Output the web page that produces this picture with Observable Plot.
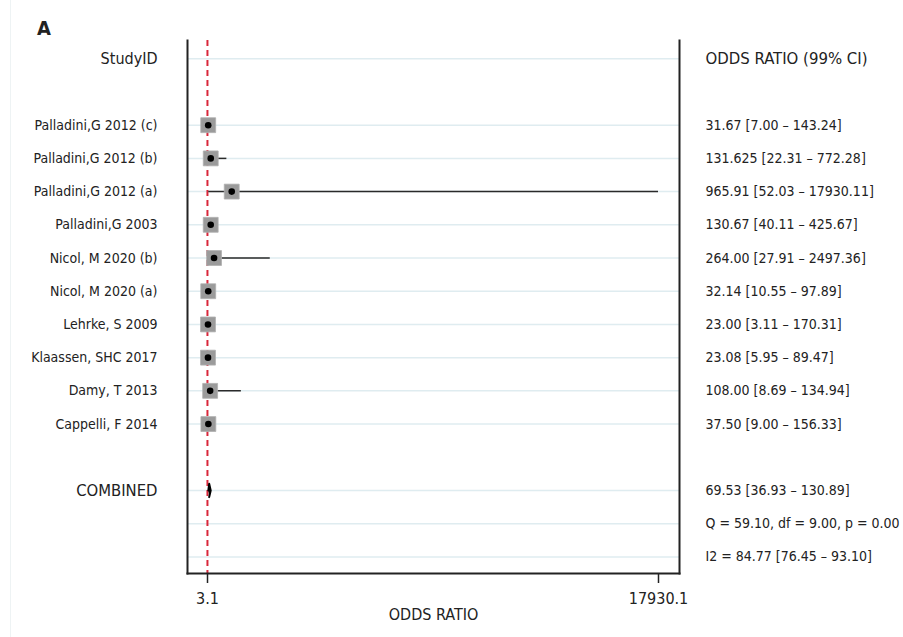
<!DOCTYPE html>
<html>
<head>
<meta charset="utf-8">
<script src="https://cdn.jsdelivr.net/npm/d3@7"></script>
<script src="https://cdn.jsdelivr.net/npm/@observablehq/plot@0.6"></script>
<style>
  html, body { margin: 0; padding: 0; background: #fff; }
  #wrap { position: relative; width: 903px; height: 637px; overflow: hidden;
          font-family: "Liberation Sans Narrow", "Arial Narrow", "DejaVu Sans Condensed", sans-serif; }
  #edge { position: absolute; left: 10px; top: 0; width: 1px; height: 637px; background: #eef3f4; }
  #title { position: absolute; left: 37px; top: 16px; font-size: 20px; font-weight: bold; color: #222; }
  #chart { position: absolute; left: 0; top: 0; }
</style>
</head>
<body>
<div id="wrap">
  <div id="edge"></div>
  <div id="chart"></div>
  <div id="title">A</div>
</div>
<script>
// ---- data ----
const studies = ["Palladini,G 2012 (c)", "Palladini,G 2012 (b)", "Palladini,G 2012 (a)", "Palladini,G 2003",
  "Nicol, M 2020 (b)", "Nicol, M 2020 (a)", "Lehrke, S 2009", "Klaassen, SHC 2017", "Damy, T 2013", "Cappelli, F 2014"];
const oddsRatio = [31.67, 131.625, 965.91, 130.67, 264.00, 32.14, 23.00, 23.08, 108.00, 37.50];
const ciLow = [7.00, 22.31, 52.03, 40.11, 27.91, 10.55, 3.11, 5.95, 8.69, 9.00];
const ciHigh = [143.24, 772.28, 17930.11, 425.67, 2497.36, 97.89, 170.31, 89.47, 1349.4, 156.33];
const ciLabels = ["31.67 [7.00 – 143.24]", "131.625 [22.31 – 772.28]", "965.91 [52.03 – 17930.11]",
  "130.67 [40.11 – 425.67]", "264.00 [27.91 – 2497.36]", "32.14 [10.55 – 97.89]", "23.00 [3.11 – 170.31]",
  "23.08 [5.95 – 89.47]", "108.00 [8.69 – 134.94]", "37.50 [9.00 – 156.33]"];
const combinedLabel = "COMBINED";
const combined = {or: 69.53, lo: 36.93, hi: 130.89, label: "69.53 [36.93 – 130.89]"};
const heterogeneity = ["Q = 59.10, df = 9.00, p = 0.00", "I2 = 84.77 [76.45 – 93.10]"];
const headerLeft = "StudyID";
const headerRight = "ODDS RATIO (99% CI)";
const xTicks = [3.1, 17930.1];
const xLabel = "ODDS RATIO";
const nullValue = 1;

// ---- rows ----
const studyRows = studies.map((s, i) => ({name: s, row: i + 2, or: oddsRatio[i], lo: ciLow[i], hi: ciHigh[i], label: ciLabels[i]}));
const combinedRow = studies.length + 3;
const hetRows = heterogeneity.map((t, i) => ({label: t, row: combinedRow + 1 + i}));
const gridRows = [0, ...studyRows.map(d => d.row), combinedRow, ...hetRows.map(d => d.row)];
const diamond = [
  {x: combined.lo, y: combinedRow}, {x: combined.or, y: combinedRow - 0.2},
  {x: combined.hi, y: combinedRow}, {x: combined.or, y: combinedRow + 0.2}
];
const ink = "#222";
const fnt = 14;

const chart = Plot.plot({
  width: 903,
  height: 637,
  marginLeft: 187,
  marginRight: 224,
  marginTop: 40,
  marginBottom: 64,
  style: {fontFamily: '"Liberation Sans Narrow", "Arial Narrow", "DejaVu Sans Condensed", sans-serif', color: ink, background: "transparent"},
  x: {domain: [xTicks[0], xTicks[1]], insetLeft: 20, insetRight: 21},
  y: {domain: [-0.55, 15.5], reverse: true, axis: null},
  marks: [
    Plot.ruleY(gridRows, {stroke: "#dfecf0", strokeWidth: 1.5}),
    Plot.ruleX([nullValue], {stroke: "#d9263a", strokeWidth: 2, strokeDasharray: "6,4"}),
    Plot.ruleY(studyRows, {y: "row", x1: "lo", x2: "hi", stroke: "#2a2a2a", strokeWidth: 1.5}),
    Plot.dot(studyRows, {x: "or", y: "row", symbol: "square", r: 8.4, fill: "#9b9b9b", stroke: "#b0b0b0", strokeWidth: 0.8}),
    Plot.dot(studyRows, {x: "or", y: "row", r: 3.3, fill: "#000"}),
    Plot.line(diamond, {x: "x", y: "y", fill: "#000", stroke: "#000", strokeWidth: 2}),
    Plot.frame({anchor: "left", stroke: ink, strokeWidth: 2}),
    Plot.frame({anchor: "right", stroke: ink, strokeWidth: 2}),
    Plot.frame({anchor: "bottom", stroke: ink, strokeWidth: 2}),
    Plot.axisX({ticks: xTicks, tickFormat: d => d.toFixed(1), tickSize: 10, tickPadding: 9, fontSize: 16, label: null, stroke: ink, strokeWidth: 1.5}),
    Plot.text([xLabel], {frameAnchor: "bottom", dy: 46, fontSize: 16, fill: ink}),
    // left column
    Plot.text([headerLeft], {y: [0], frameAnchor: "left", dx: -30, textAnchor: "end", fontSize: 16, fill: ink}),
    Plot.text(studyRows, {y: "row", text: "name", frameAnchor: "left", dx: -30, textAnchor: "end", fontSize: fnt, fill: ink}),
    Plot.text([combinedLabel], {y: [combinedRow], frameAnchor: "left", dx: -30, textAnchor: "end", fontSize: 16.5, fill: ink}),
    // right column
    Plot.text([headerRight], {y: [0], frameAnchor: "right", dx: 26, textAnchor: "start", fontSize: 16.6, fill: ink}),
    Plot.text(studyRows, {y: "row", text: "label", frameAnchor: "right", dx: 26, textAnchor: "start", fontSize: fnt, fill: ink}),
    Plot.text([combined.label], {y: [combinedRow], frameAnchor: "right", dx: 26, textAnchor: "start", fontSize: fnt, fill: ink}),
    Plot.text(hetRows, {y: "row", text: "label", frameAnchor: "right", dx: 26, textAnchor: "start", fontSize: fnt, fill: ink})
  ]
});
document.getElementById("chart").appendChild(chart);
</script>
</body>
</html>
